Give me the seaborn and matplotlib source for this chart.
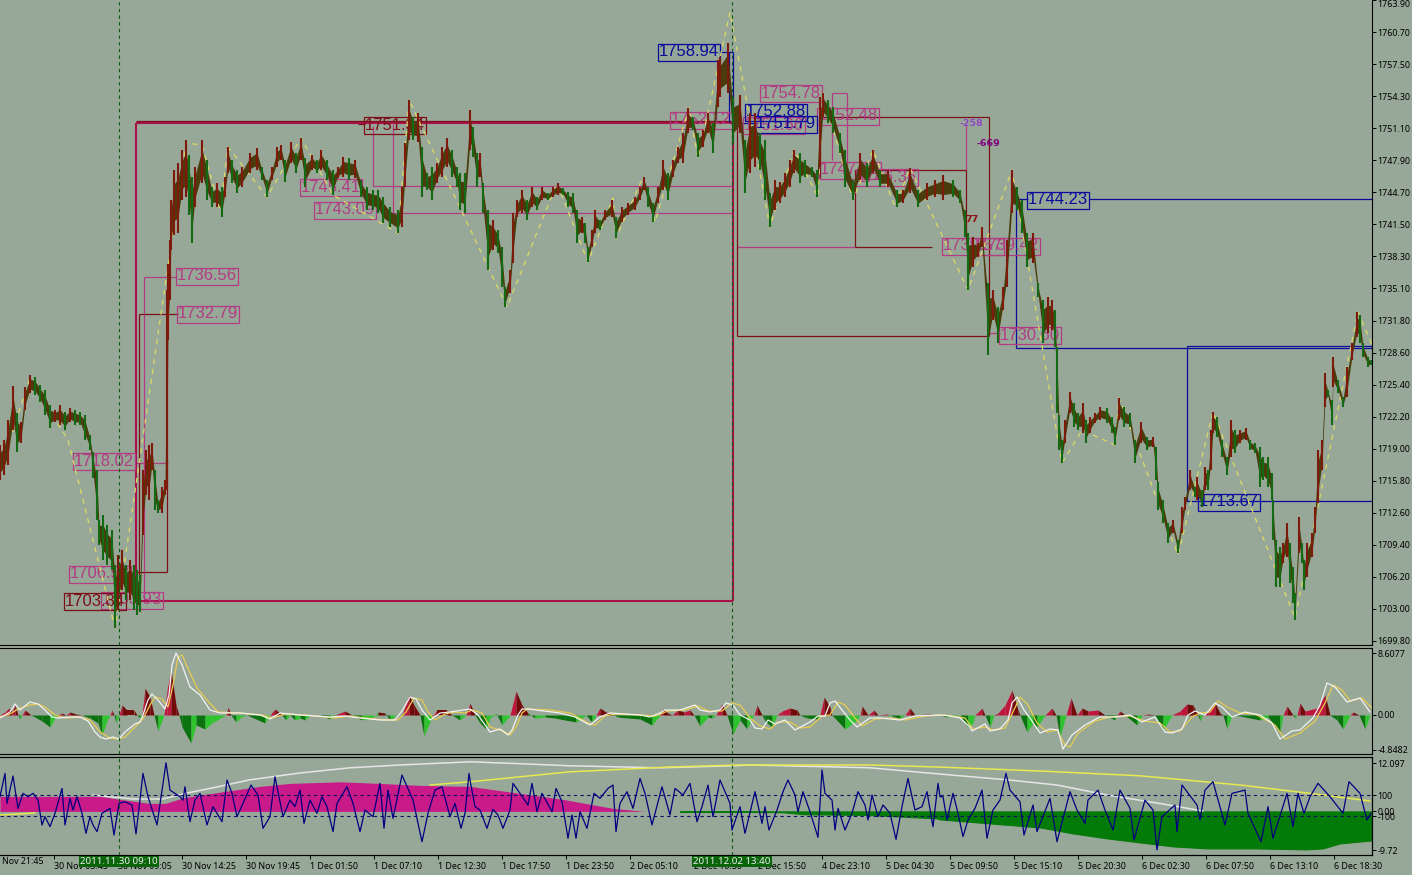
import numpy as np
import matplotlib
matplotlib.use("Agg")
import matplotlib.pyplot as plt
from matplotlib.patches import Rectangle
import seaborn as sns

# ---------- price pane: bar position, high, low ----------
bar_x = [0,4,8,13,17,21,25,30,35,40,
45,50,55,60,65,70,75,80,85,90,
93,97,99,103,107,112,115,118,122,126,
130,134,137,140,143,146,149,152,155,158,
162,165,167,168,170,171,174,178,182,186,
189,192,195,202,207,212,217,222,225,228,
232,237,242,250,257,262,267,272,277,281,
285,291,296,301,305,312,317,321,327,333,
338,343,349,355,361,367,373,378,383,390,
398,402,405,409,413,418,422,427,432,437,
442,447,452,457,460,465,470,473,477,480,
483,488,493,498,502,505,510,513,517,522,
527,532,537,542,548,553,558,563,568,573,
577,582,585,588,592,595,600,605,612,616,
622,628,635,640,644,648,653,658,663,668,
673,678,683,688,693,698,703,708,713,718,
720,728,733,740,745,750,755,760,765,770,
775,780,785,790,794,800,805,812,817,820,
823,828,833,840,845,853,860,867,873,880,
888,897,903,910,918,927,935,943,953,960,
965,968,973,978,982,988,993,998,1003,1007,
1012,1017,1022,1027,1033,1038,1043,1048,1052,1055,
1057,1059,1062,1065,1070,1074,1078,1083,1086,1090,
1095,1100,1107,1112,1115,1119,1124,1130,1135,1141,
1147,1153,1156,1158,1163,1168,1173,1178,1182,1185,
1190,1195,1197,1202,1205,1208,1211,1213,1217,1222,
1227,1231,1235,1240,1246,1250,1255,1260,1263,1268,
1272,1273,1276,1280,1283,1287,1290,1293,1295,1299,
1302,1304,1307,1312,1315,1318,1322,1325,1328,1332,
1333,1338,1343,1347,1352,1357,1360,1363,1368,1371]

bar_high = [1719.4,1719.9,1721.9,1725.3,1722.6,1721.7,1725.2,1726.4,1726.2,1725.4,
1724.9,1723.4,1722.9,1723.4,1722.7,1723.1,1722.9,1722.7,1722.4,1720.4,
1718.7,1716.9,1711.9,1712.4,1711.4,1710.9,1707.4,1708.4,1708.9,1707.4,
1707.9,1707.4,1706.9,1706.4,1716.9,1718.9,1719.4,1719.6,1716.9,1713.9,
1715.2,1715.9,1734.9,1737.5,1739.9,1743.9,1746.9,1747.6,1748.9,1749.9,
1748.4,1746.2,1747.2,1749.9,1747.9,1745.2,1745.6,1745.2,1746.2,1749.2,
1747.9,1746.9,1747.2,1748.6,1749.1,1747.2,1745.9,1747.2,1749.2,1749.4,
1747.9,1749.7,1748.6,1750.1,1748.1,1748.4,1747.9,1748.9,1747.9,1746.9,
1747.2,1748.2,1748.1,1747.9,1745.9,1745.2,1744.9,1744.9,1744.2,1743.2,
1742.9,1745.2,1749.6,1753.9,1752.2,1752.6,1749.2,1746.6,1747.2,1747.6,
1749.2,1750.1,1748.9,1747.2,1746.6,1746.6,1752.9,1751.2,1748.6,1748.6,
1745.6,1742.9,1741.9,1740.9,1739.2,1735.2,1736.9,1742.6,1743.9,1744.9,
1743.9,1745.2,1744.2,1745.2,1744.6,1745.2,1745.6,1745.1,1744.7,1744.6,
1742.9,1742.2,1741.6,1739.2,1740.9,1742.9,1741.9,1742.9,1743.9,1742.2,
1743.2,1743.6,1744.2,1745.2,1746.2,1745.2,1743.6,1745.2,1747.9,1746.6,
1747.9,1749.2,1750.6,1753.1,1752.2,1750.6,1750.9,1752.6,1751.6,1757.9,
1758.2,1759.6,1754.2,1754.4,1749.9,1752.6,1752.6,1750.6,1749.9,1744.6,
1745.9,1745.7,1746.6,1747.9,1748.9,1748.6,1747.9,1747.2,1746.9,1754.2,
1754.6,1753.9,1753.2,1750.6,1748.9,1745.9,1748.6,1747.6,1748.9,1746.9,
1746.9,1744.9,1744.9,1747.1,1744.9,1745.6,1745.9,1746.4,1745.9,1744.9,
1742.9,1740.6,1740.2,1739.6,1741.2,1735.6,1734.9,1733.2,1735.2,1739.9,
1746.9,1745.2,1743.9,1740.6,1740.6,1735.6,1733.9,1734.2,1733.9,1732.9,
1729.2,1722.4,1719.9,1721.9,1724.7,1723.6,1722.6,1723.6,1721.9,1722.2,
1722.6,1723.2,1723.1,1722.2,1721.2,1724.1,1723.2,1722.6,1719.9,1721.7,
1720.2,1720.2,1719.2,1715.7,1713.9,1711.6,1711.9,1709.9,1713.2,1714.2,
1716.9,1715.2,1716.2,1714.9,1717.2,1716.9,1720.9,1722.7,1722.2,1719.9,
1718.2,1721.9,1720.9,1720.9,1721.1,1719.9,1719.6,1719.2,1718.2,1718.2,
1716.6,1713.9,1709.9,1709.2,1709.6,1711.6,1709.6,1707.2,1704.6,1712.2,
1709.6,1707.9,1709.6,1710.6,1713.2,1718.9,1719.9,1726.6,1724.9,1723.9,
1728.2,1725.9,1724.2,1727.2,1729.6,1732.7,1732.4,1729.6,1728.2,1727.9]

bar_low = [1715.9,1716.4,1717.4,1720.9,1718.7,1719.6,1722.9,1724.6,1724.4,1723.7,
1722.4,1721.1,1721.7,1721.4,1720.9,1721.7,1721.4,1721.4,1719.9,1718.9,
1716.1,1711.9,1709.4,1707.9,1707.4,1706.9,1701.1,1702.9,1704.9,1703.9,
1703.9,1702.9,1702.4,1702.7,1710.4,1714.4,1713.9,1716.9,1712.9,1712.6,
1712.6,1714.4,1714.9,1729.9,1733.9,1738.9,1740.4,1740.6,1743.9,1744.2,
1742.4,1739.6,1743.2,1745.6,1743.9,1743.2,1743.2,1742.2,1744.2,1746.6,
1745.6,1744.6,1745.2,1746.6,1746.9,1745.9,1744.2,1745.9,1747.2,1747.9,
1745.7,1747.6,1746.6,1747.9,1745.2,1746.9,1746.6,1746.9,1745.9,1744.4,
1746.1,1746.2,1745.9,1746.1,1744.2,1742.9,1742.9,1742.6,1741.6,1741.2,
1740.6,1741.2,1745.2,1749.9,1749.9,1749.7,1744.2,1744.9,1743.9,1745.6,
1746.2,1747.2,1746.2,1745.2,1742.9,1742.6,1748.9,1748.2,1745.2,1746.2,
1742.6,1736.9,1738.9,1738.6,1735.2,1733.2,1734.6,1737.6,1742.2,1742.6,
1741.9,1743.2,1742.9,1743.9,1743.9,1744.2,1744.4,1744.4,1743.2,1742.6,
1739.6,1740.6,1739.6,1737.7,1739.2,1740.6,1740.9,1741.9,1742.2,1740.1,
1741.7,1742.4,1742.9,1743.9,1744.9,1743.2,1741.7,1743.6,1744.9,1743.9,
1746.2,1747.6,1747.6,1750.6,1750.9,1748.2,1749.2,1750.6,1748.6,1753.2,
1754.2,1754.6,1749.6,1750.6,1744.6,1746.6,1747.2,1746.9,1743.9,1741.2,
1742.9,1743.6,1744.2,1745.2,1746.6,1745.6,1746.2,1746.2,1744.2,1747.2,
1752.2,1751.6,1750.6,1748.6,1745.2,1743.9,1745.9,1745.2,1746.6,1745.2,
1745.2,1743.2,1743.6,1744.6,1743.2,1743.9,1744.2,1743.9,1744.2,1743.6,
1740.2,1734.9,1737.2,1738.2,1739.2,1728.4,1731.9,1729.6,1732.9,1735.2,
1742.6,1742.9,1740.6,1737.2,1737.6,1734.2,1729.6,1730.6,1730.9,1729.2,
1722.6,1718.9,1717.6,1719.6,1722.6,1721.2,1720.9,1720.6,1719.6,1720.6,
1721.6,1721.9,1721.6,1720.6,1719.4,1721.9,1721.2,1721.2,1717.6,1719.6,
1718.9,1719.2,1715.9,1712.9,1711.6,1709.6,1710.6,1708.6,1710.6,1712.9,
1714.9,1714.2,1713.9,1713.2,1714.9,1714.9,1716.9,1720.6,1720.2,1718.2,
1716.4,1718.2,1718.6,1719.6,1719.9,1718.9,1718.6,1715.2,1715.9,1715.2,
1713.9,1709.9,1705.2,1705.2,1707.6,1708.2,1705.6,1703.6,1701.9,1708.6,
1707.6,1704.9,1706.2,1708.2,1710.6,1713.6,1716.9,1723.2,1724.2,1721.4,
1725.2,1724.6,1723.2,1724.2,1727.9,1730.2,1729.6,1728.2,1727.2,1727.4]

zigzag_x = [0,30,68,115,186,202,220,228,267,301,333,398,409,507,557,588,613,616,643,655,
            689,698,730,770,794,818,823,853,873,895,910,968,1012,1062,1082,1115,1119,1178,1213,1295,1358,1372]
zigzag_p = [1716.9,1726.1,1719.9,1701.1,1749.6,1749.4,1742.9,1749.2,1744.2,1750.1,1744.4,1740.6,1753.9,
            1733.2,1745.6,1737.7,1744.1,1740.1,1746.2,1741.7,1753.1,1748.1,1762.7,1741.2,1748.9,1744.2,
            1754.6,1743.9,1748.9,1743.2,1747.1,1734.9,1746.9,1717.6,1720.9,1719.4,1724.1,1708.4,1722.7,
            1702.1,1732.7,1729.4]

price_ticks = [1763.90,1760.70,1757.50,1754.30,1751.10,1747.90,1744.70,1741.50,1738.30,1735.10,
               1731.80,1728.60,1725.40,1722.20,1719.00,1715.80,1712.60,1709.40,1706.20,1703.00,1699.80]

# channel lines of the price pane: (x0, price0, x1, price1)
crimson_lines = [(136,1751.6,733,1751.6),(136,1751.6,136,1703.8),(136,1703.8,733,1703.8),(733,1751.6,733,1703.8)]
darkred_lines = [(136,1751.8,737,1751.8),(737,1751.6,737,1730.3),(737,1730.3,989,1730.3),(989,1730.3,989,1752.2),
                 (820,1752.2,989,1752.2),(820,1752.2,820,1746.1),(855,1746.9,966,1746.9),(855,1746.9,855,1739.2),
                 (855,1739.2,932,1739.2),(966,1746.9,966,1740.6),(139,1732.5,178,1732.5),(139,1732.5,139,1703.8),
                 (136,1706.7,167,1706.7),(167,1706.7,167,1718.0),(358,1751.5,365,1751.5)]
pink_lines = [(144,1736.2,177,1736.2),(144,1736.2,144,1703.8),(136,1717.6,167,1717.6),(167,1717.6,167,1734.9),
              (373,1745.3,733,1745.3),(373,1745.3,373,1751.3),(393,1742.6,733,1742.6),(393,1742.6,393,1751.5),
              (737,1739.2,855,1739.2),(966,1746.9,966,1751.5),(832,1754.6,847,1754.6),(832,1754.6,832,1747.9),
              (847,1754.6,847,1746.0),(988,1730.6,1000,1730.6)]
blue_lines = [(1016,1744.0,1028,1744.0),(1089,1744.0,1372,1744.0),(1016,1744.0,1016,1729.1),(1016,1729.1,1372,1729.1),
              (1187,1729.3,1372,1729.3),(1187,1729.3,1187,1713.8),(1187,1713.8,1372,1713.8),(720,1758.7,733,1758.7),
              (733,1758.7,733,1751.5),(729,1758.7,729,1751.7),(733,1751.6,756,1751.6)]

# price tags: (text, centre x, centre price)
pink_tags = [("1736.56",207,1736.3),("1732.79",208,1732.5),("1718.02",104,1717.8),("1706.58",100,1706.5),
             ("1703.93",132,1703.9),("1745.41",331,1745.2),("1743.09",345,1742.9),("1752.12",701,1751.9),
             ("1751.66",774,1751.4),("1754.78",791,1754.6),("1752.48",848,1752.3),("1747.42",850,1746.9),
             ("1746.36",887,1746.2),("1739.57",973,1739.3),("1739.42",1009,1739.3),("1730.60",1030,1730.4)]
darkred_tags = [("1703.84",95,1703.8),("1751.34",395,1751.4)]
blue_tags = [("1758.94",689,1758.7),("1752.88",776,1752.7),("1751.79",786,1751.5),("1744.23",1058,1743.9),("1713.67",1229,1713.7)]

# ---------- oscillator pane ----------
OSC_UNIT = 7.2
hist_x = [0,5,9,12,15,18,20,22,25,31,35,42,50,55,58,62,66,70,76,82,90,98,102,107,110,112,114,116,119,122,127,134,137,140,142,145,150,154,158,164,167,171,176,179,182,191,196,205,212,222,226,228,231,236,241,247,265,270,275,282,286,290,295,300,305,310,320,330,335,345,352,362,372,378,385,390,396,402,409,414,420,424,432,437,447,452,460,466,470,475,480,486,490,496,502,510,516,522,528,535,545,555,565,576,582,586,592,596,600,606,612,618,628,640,652,660,663,668,672,678,684,690,694,700,708,712,716,722,727,733,740,747,752,754,757,762,765,772,777,782,790,797,800,807,818,820,824,830,832,845,857,860,862,868,874,878,887,895,900,905,910,915,928,940,947,960,968,973,975,982,985,990,994,998,1005,1012,1018,1020,1027,1033,1037,1045,1052,1056,1060,1066,1071,1077,1082,1088,1098,1105,1115,1117,1120,1125,1137,1142,1148,1155,1163,1172,1180,1187,1193,1198,1200,1203,1208,1215,1220,1223,1227,1232,1240,1260,1268,1280,1283,1287,1293,1295,1297,1300,1305,1317,1325,1330,1337,1343,1350,1353,1359,1365,1370]
hist_v = [0,3,7,3,10,0,-4,0,5,0,-2,-6,-12,-3,0,2,0,3,1,0,-3,-8,-20,-6,0,5,0,-8,0,10,5,5,0,-3,0,27,18,0,-16,0,25,45,10,0,-12,-28,-10,-14,-8,-2,0,8,0,-7,-2,0,-8,0,6,0,-5,0,-5,-3,-5,0,0,-4,0,4,0,-5,-3,3,2,-5,0,0,20,10,0,-21,-2,5,5,0,-5,0,12,0,-8,-14,-3,2,-10,0,24,10,2,-3,-2,-3,-5,-7,-3,0,-7,0,7,3,1,-2,-3,-4,-10,0,6,2,0,5,3,5,0,-11,-2,-3,0,11,0,-19,-5,-14,-3,0,10,0,-6,-12,0,4,7,5,0,-3,-4,0,18,8,0,-14,-5,0,9,0,5,0,1,-2,-3,0,7,0,1,0,-2,0,-12,-8,0,7,0,-12,0,2,10,25,5,0,-17,-8,-12,0,7,0,-22,0,17,0,7,4,5,0,-5,0,4,0,-10,0,1,0,-15,0,4,11,10,0,-6,0,3,12,2,0,-14,0,-1,-5,-2,-17,0,9,0,-3,0,12,4,7,20,0,-5,-14,0,3,0,-14,0]

fast_x = [0,10,15,20,30,38,45,52,58,70,80,88,95,100,106,113,119,125,135,140,143,148,152,158,165,169,172,176,182,190,200,210,220,240,260,270,280,300,330,345,360,380,395,402,410,416,422,430,440,450,470,478,485,490,500,508,512,518,522,528,560,575,590,600,610,625,640,650,660,665,680,695,700,710,720,726,733,740,750,755,762,768,775,785,795,810,818,825,830,835,842,850,857,870,880,900,915,940,950,960,970,972,985,990,1000,1008,1012,1017,1024,1030,1040,1050,1058,1063,1072,1085,1100,1115,1130,1142,1155,1165,1172,1182,1188,1195,1205,1215,1222,1232,1245,1260,1272,1280,1292,1300,1313,1320,1327,1335,1347,1360,1370]
fast_v = [-3,3,11,5,13,11,5,-2,-3,-2,-2,-6,-17,-22,-24,-22,-24,-17,-9,-7,0,15,21,15,6,20,50,62,50,28,20,5,2,2,0,-4,2,0,-2,-1,-3,-5,-5,4,18,16,5,-5,2,3,6,0,-10,-17,-14,-20,-15,0,6,6,2,-2,-10,-2,2,1,0,-2,2,5,5,10,5,3,5,12,10,0,-5,-13,-14,-5,-9,-5,-15,-7,-1,-1,12,14,5,-5,-12,-3,-3,-5,-1,0,-1,-3,-12,-16,-9,-16,-14,-5,12,18,5,-3,-18,-14,-15,-34,-20,-10,-2,-2,0,-7,-2,-17,-18,-14,0,4,0,12,8,-2,3,0,-8,-24,-16,-15,-3,10,32,28,13,17,3]
slow_x = [0,10,18,30,38,45,55,65,80,90,100,110,118,125,135,143,150,155,162,168,173,178,182,190,197,207,218,240,262,272,285,305,335,350,365,385,398,406,414,422,428,435,445,455,465,472,482,490,503,510,516,522,527,550,570,590,595,605,615,640,655,668,685,698,708,722,732,740,750,760,770,778,790,800,810,822,830,838,845,855,862,875,890,905,925,945,965,973,985,993,1005,1013,1020,1028,1037,1047,1057,1065,1070,1078,1095,1110,1130,1145,1160,1170,1180,1192,1200,1210,1218,1227,1240,1255,1275,1285,1300,1315,1325,1333,1342,1350,1362,1372]
slow_v = [-2,1,6,10,11,8,0,-3,-2,-5,-17,-23,-24,-22,-12,-4,10,18,16,8,30,58,60,42,27,15,3,2,0,-3,1,0,-3,-1,-3,-5,-5,3,17,15,3,-5,1,3,2,5,2,-12,-16,-20,-12,2,6,5,2,-9,-10,-1,1,0,-1,4,5,9,4,4,12,10,-3,-11,-14,-7,-7,-13,-12,-1,0,13,10,-3,-11,-4,-3,-5,-1,0,-3,-14,-12,-15,-13,3,18,10,-8,-17,-15,-30,-32,-18,-6,-2,-1,-6,-8,-17,-16,-2,2,3,14,8,2,1,-10,-24,-18,-6,12,30,25,14,17,7]
osc_ticks = [8.6077,0.0,-4.8482]
osc_tick_labels = ["8.6077","0.00","-4.8482"]

# ---------- lower pane ----------
pink_area_x = [0,100,120,150,165,185,225,260,290,340,380,420,470,563,613,645]
pink_area_v = [3.75,3.75,3,2,2,3.5,5,6.25,7,7.4,7,6.5,6.25,3,.75,0]
green_area_x = [680,727,728,746,747,783,803,870,937,940,990,1040,1073,1107,1140,1173,1207,1257,1307,1323,1340,1372]
green_area_v = [-.1,-.1,0,0,-.1,-.2,-.7,-.9,-1.75,-2,-3,-4,-5.5,-6.75,-7.75,-8.75,-9.25,-9.25,-9.5,-9.25,-8,-7.25]
white_ma_x = [93,133,163,187,217,250,300,350,400,470,523,570,660,733,750,870,937,1007,1057,1107,1157,1203]
white_ma_v = [4.1,3.1,3.1,4.6,6.1,7.9,9.6,10.9,11.6,12.4,11.9,11.4,10.9,11.4,11.6,10.9,9.4,7.9,6.6,4.1,2.1,.1]
yellow_ma_left_x = [0,35]
yellow_ma_left_v = [-.9,-.4]
yellow_ma_x = [430,470,570,670,737,870,937,1040,1140,1240,1307,1370]
yellow_ma_v = [6.6,7.4,9.9,11.1,11.6,11.6,11.1,10.1,8.9,6.6,4.6,2.6]
cci_x = [0,5,7,13,18,23,28,33,38,42,45,50,55,62,65,70,73,77,82,86,90,93,97,102,110,114,119,125,132,136,143,148,157,166,170,180,183,185,190,195,200,207,213,222,227,232,237,243,251,258,263,270,275,283,290,295,300,304,310,317,322,327,333,337,347,353,360,365,373,380,384,388,393,402,413,422,428,435,442,450,455,461,465,469,
470,475,480,487,493,498,503,510,513,520,528,532,537,542,552,556,562,568,572,576,580,587,594,600,608,613,616,620,627,633,640,645,652,662,670,675,683,690,697,702,708,713,720,730,732,740,745,755,762,765,769,777,783,788,795,798,803,810,818,822,825,832,835,838,845,852,858,865,868,872,878,883,890,896,902,908,915,922,927,933,938,
940,943,947,953,958,963,968,975,982,987,993,1000,1006,1010,1020,1024,1033,1037,1050,1057,1070,1077,1085,1088,1098,1105,1113,1120,1130,1134,1145,1153,1157,1162,1175,1177,1182,1197,1200,1205,1213,1225,1232,1245,1248,1261,1268,1273,1287,1293,1298,1304,1310,1318,1330,1343,1349,1360,1367,1371]
cci_v = [84,306,21,281,-27,116,84,116,52,-185,-106,-201,-74,163,-185,68,-43,84,-74,-265,-106,-185,-249,-74,-27,-281,21,36,5,-271,306,84,-185,407,147,84,52,179,-154,52,116,-185,-11,-154,243,116,-106,21,195,100,-217,-106,274,-106,52,-11,147,-170,52,-74,84,-11,-249,21,179,21,-249,-43,-106,211,-217,147,-122,290,52,-344,-74,147,179,-106,21,-217,-74,306,
243,-11,-43,-217,-36,-90,-217,-43,211,116,5,211,-59,116,-59,163,36,-312,-90,-312,-59,-217,116,68,163,195,-249,21,132,-27,258,116,-185,179,-90,163,100,211,-154,-11,195,-106,243,21,-233,-11,-265,132,-170,-11,-233,-43,132,243,100,-59,132,-59,-303,338,116,52,-233,-27,-233,-74,132,5,-138,100,-106,5,-74,-322,-11,258,-43,-11,132,-202,211,
84,84,-138,116,-74,-296,-138,-27,147,-312,-43,52,306,147,36,-281,5,-249,68,-344,132,-43,-170,52,147,-43,-233,147,-27,-328,52,-43,-423,-106,5,-249,195,5,-138,147,227,-185,116,147,-74,-344,-11,-312,116,-201,116,-74,84,211,84,-74,227,116,-138,-74]
low_ticks = [12.097,0.0,-9.72]
low_tick_labels = ["12.097","0.00","-9.72"]
cci_ticks = [100,-100]

# ---------- time axis ----------
time_ticks = [54,118,182,246,310,374,438,502,566,630,694,758,822,886,950,1014,1078,1142,1206,1270,1334]
time_labels = ["30 Nov 03:45","30 Nov 09:05","30 Nov 14:25","30 Nov 19:45","1 Dec 01:50","1 Dec 07:10","1 Dec 12:30",
               "1 Dec 17:50","1 Dec 23:50","2 Dec 05:10","2 Dec 10:30","2 Dec 15:50","4 Dec 23:10","5 Dec 04:30",
               "5 Dec 09:50","5 Dec 15:10","5 Dec 20:30","6 Dec 02:30","6 Dec 07:50","6 Dec 13:10","6 Dec 18:30"]
cursor_x = [119,732]
cursor_labels = ["2011.11.30 09:10","2011.12.02 13:40"]

# ---------- styling ----------
BG = "#98a898"
PINK, DARKRED, CRIMSON, BLUE = "#b23c84", "#7c1018", "#a8104a", "#0a0a9c"
W, H, PANE_R = 1412, 877, 1372
AXIS_FONT = 6.4
sns.set_theme(style="white", rc={"axes.facecolor": BG, "figure.facecolor": BG, "axes.grid": False})
plt.rcParams["font.family"] = ["Noto Sans", "DejaVu Sans"]

fig = plt.figure(figsize=(W/100, H/100), dpi=100)
def pane(top, bottom):
    return fig.add_axes([0, 1-bottom/H, PANE_R/W, (bottom-top)/H])
ax1, ax2, ax3 = pane(0, 645), pane(647.5, 754), pane(757, 855)
ax3b = ax3.twinx()

ax1.set_ylim(1699.4, 1763.9)
ax2.set_ylim(-39/OSC_UNIT, 67.5/OSC_UNIT)
ax3.set_ylim(-10.9, 13.6)
ax3b.set_ylim(-471, 462)

for ax in (ax1, ax2, ax3, ax3b):
    ax.set_xlim(0, PANE_R)
    ax.spines["left"].set_visible(False)
    for side in ("right", "top", "bottom"):
        ax.spines[side].set_color("black")
        ax.spines[side].set_linewidth(0.8)
    ax.yaxis.tick_right()
    ax.tick_params(axis="y", right=True, length=3, width=0.7, color="black", labelsize=AXIS_FONT, pad=1, labelcolor="black")
    ax.set_xlabel(""); ax.set_ylabel("")
ax1.spines["top"].set_visible(False)
ax3b.yaxis.set_label_position("right")

# channel lines
def draw_lines(segs, color, lw, z=2):
    for x0, p0, x1, p1 in segs:
        ax1.plot([x0, x1], [p0, p1], color=color, lw=lw, solid_capstyle="butt", zorder=z)
draw_lines(pink_lines, PINK, 0.9)
draw_lines(darkred_lines, DARKRED, 0.9)
draw_lines(crimson_lines, CRIMSON, 1.5)
draw_lines(blue_lines, BLUE, 0.9)

# tags
def draw_tags(tags, color):
    for t, x, p in tags:
        ax1.text(x, p, t, color=color, fontsize=12, family="Liberation Sans", ha="center", va="center", zorder=2.5,
                 bbox=dict(boxstyle="square,pad=0.06", fc="none", ec=color, lw=0.9))
draw_tags(pink_tags, PINK)
draw_tags(darkred_tags, DARKRED)
draw_tags(blue_tags, BLUE)
for txt, tx, tp, tc in [("-258", 971, 1751.5, "#9048c4"), ("-669", 988, 1749.5, "#800080"), ("77", 972, 1742.0, "#8a1010")]:
    ax1.text(tx, tp, txt, color=tc, fontsize=6.8, family="DejaVu Sans", fontweight="bold", ha="center", va="center", zorder=5)

# zigzag under the bars
sns.lineplot(x=zigzag_x, y=zigzag_p, ax=ax1, estimator=None, sort=False, color="#dcdc62", lw=0.9,
             linestyle=(0, (4, 4)), legend=False, zorder=2.8)

# price bars: dense body band from the mid of each bar, then each bar's full range
bx, bh, bl = np.array(bar_x), np.array(bar_high), np.array(bar_low)
mid = (bh + bl) / 2
half = (bh - bl) * 0.28
ax1.fill_between(bx, mid - half, mid + half, color="#4a3c0c", lw=0, zorder=3)
up = np.r_[True, mid[1:] >= mid[:-1]]
ax1.vlines(bx[up], bl[up], bh[up], color="#7e1a0c", lw=1.5, zorder=3.2)
ax1.vlines(bx[~up], bl[~up], bh[~up], color="#146a12", lw=1.5, zorder=3.2)

# oscillator
hx, hv = np.array(hist_x), np.array(hist_v) / OSC_UNIT
for i in range(len(hx) - 1):
    a, b = hv[i], hv[i+1]
    if a == 0 and b == 0:
        continue
    if a + b > 0:
        col = "#c0163e" if b > a else "#720a0a"
    else:
        col = "#0a720e" if b < a else "#2ec42e"
    ax2.fill_between(hx[i:i+2], 0, hv[i:i+2], color=col, lw=0, zorder=2)
sns.lineplot(x=slow_x, y=np.array(slow_v)/OSC_UNIT, ax=ax2, estimator=None, sort=False, color="#e8cc50", lw=0.9, legend=False, zorder=3)
sns.lineplot(x=fast_x, y=np.array(fast_v)/OSC_UNIT, ax=ax2, estimator=None, sort=False, color="#f2f2f2", lw=0.9, legend=False, zorder=4)

# lower pane
ax3.fill_between(pink_area_x, 0, pink_area_v, color="#c81a88", lw=0, zorder=1)
ax3.fill_between(green_area_x, 0, green_area_v, color="#047a08", lw=0.8, zorder=1)
for xs, vs, col in [(white_ma_x, white_ma_v, "#e6e6e6"), (yellow_ma_x, yellow_ma_v, "#e8e850"), (yellow_ma_left_x, yellow_ma_left_v, "#e8e850")]:
    sns.lineplot(x=xs, y=vs, ax=ax3, estimator=None, sort=False, color=col, lw=1.1, legend=False, zorder=2)
for lvl in cci_ticks:
    ax3b.axhline(lvl, color="#101060", lw=0.8, linestyle=(0, (3, 3)), zorder=2)
sns.lineplot(x=cci_x, y=cci_v, ax=ax3b, estimator=None, sort=False, color="#000080", lw=0.9, legend=False, zorder=3)
ax3b.set_xlim(0, PANE_R); ax3b.set_xlabel(""); ax3b.set_ylabel("")

# cursors
for cx in cursor_x:
    for ax in (ax1, ax2, ax3):
        ax.axvline(cx, color="#0b5a14", lw=0.8, linestyle=(0, (3, 3)), zorder=6)

# axes ticks
ax1.set_yticks(price_ticks, [f"{v:.2f}" for v in price_ticks])
ax1.get_yticklabels()[0].set_va("top")
ax2.set_yticks(osc_ticks, osc_tick_labels)
ax3.set_yticks(low_ticks, low_tick_labels)
ax3b.set_yticks(cci_ticks, [str(v) for v in cci_ticks])
ax1.set_xticks([]); ax2.set_xticks([]); ax3b.tick_params(axis="x", bottom=False, labelbottom=False)
ax3.set_xticks(time_ticks, time_labels, ha="left")
ax3.tick_params(axis="x", bottom=True, length=3, width=0.7, color="black", labelsize=AXIS_FONT, pad=2, labelcolor="black")
ax3.text(2, -12.4, "Nov 21:45", fontsize=AXIS_FONT, color="black", ha="left", va="center", clip_on=False)
for cx, lab in zip(cursor_x, cursor_labels):
    ax3.text(cx, -12.5, lab, fontsize=7.0, color="#f0f0f0", ha="center", va="center", clip_on=False, zorder=8,
             bbox=dict(boxstyle="square,pad=0.12", fc="#0a640a", ec="none"))

fig.add_artist(Rectangle((0, 0), 1, 2/H, transform=fig.transFigure, fc="white", ec="none"))
fig.savefig("out.png", dpi=100, facecolor=BG)
